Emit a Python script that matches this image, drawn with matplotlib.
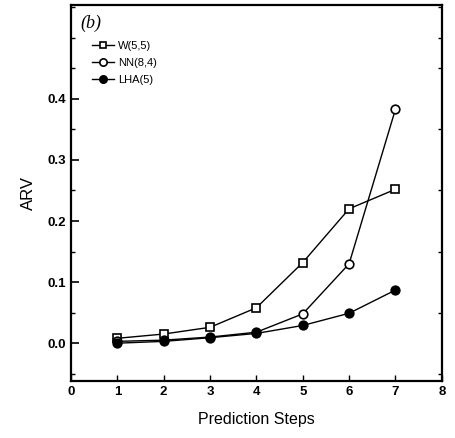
import matplotlib
matplotlib.use("Agg")
import matplotlib.pyplot as plt
from matplotlib.ticker import MultipleLocator

steps = [1, 2, 3, 4, 5, 6, 7]
w55 = [0.008, 0.015, 0.026, 0.058, 0.132, 0.220, 0.252]
nn84 = [0.003, 0.005, 0.010, 0.018, 0.048, 0.130, 0.383]
lha5 = [0.000, 0.003, 0.009, 0.016, 0.029, 0.049, 0.087]
labels = ["W(5,5)", "NN(8,4)", "LHA(5)"]

plt.rcParams["font.family"] = ["Liberation Sans", "DejaVu Sans"]

fig = plt.figure(figsize=(4.55, 4.38), dpi=100)
ax = fig.add_axes([0.156, 0.130, 0.815, 0.859])

ax.plot(steps, w55, "-", color="black", lw=1.0, marker="s", ms=5.5,
        mfc="white", mec="black", mew=1.2, label=labels[0])
ax.plot(steps, nn84, "-", color="black", lw=1.0, marker="o", ms=6.2,
        mfc="white", mec="black", mew=1.2, label=labels[1])
ax.plot(steps, lha5, "-", color="black", lw=1.0, marker="o", ms=6.2,
        mfc="black", mec="black", mew=1.2, label=labels[2])

ax.set_xlim(0, 8)
ax.set_ylim(-0.062, 0.554)
ax.xaxis.set_major_locator(MultipleLocator(1))
ax.yaxis.set_minor_locator(MultipleLocator(0.05))
ax.set_yticks([0.0, 0.1, 0.2, 0.3, 0.4])
ax.tick_params(axis="both", which="both", direction="in", labelsize=9.5)
ax.tick_params(axis="y", which="major", length=6, width=1.2)
ax.tick_params(axis="y", which="minor", length=3, width=1.0, right=True)
ax.tick_params(axis="x", which="major", length=4, width=1.0)
for lab in ax.get_xticklabels() + ax.get_yticklabels():
    lab.set_fontweight("bold")
for s in ax.spines.values():
    s.set_linewidth(1.6)

ax.set_xlabel("Prediction Steps", fontsize=11.5, labelpad=10)
ax.set_ylabel("ARV", fontsize=12, labelpad=8)

ax.text(0.025, 0.975, "(b)", transform=ax.transAxes, fontsize=13,
        family=["Liberation Serif", "DejaVu Serif"], style="italic", va="top")

leg = ax.legend(loc="upper left", bbox_to_anchor=(0.045, 0.915), frameon=False,
                fontsize=8, handlelength=2.0, handletextpad=0.3,
                labelspacing=0.6, borderaxespad=0, markerscale=0.85)

fig.savefig("out.png", dpi=100)
